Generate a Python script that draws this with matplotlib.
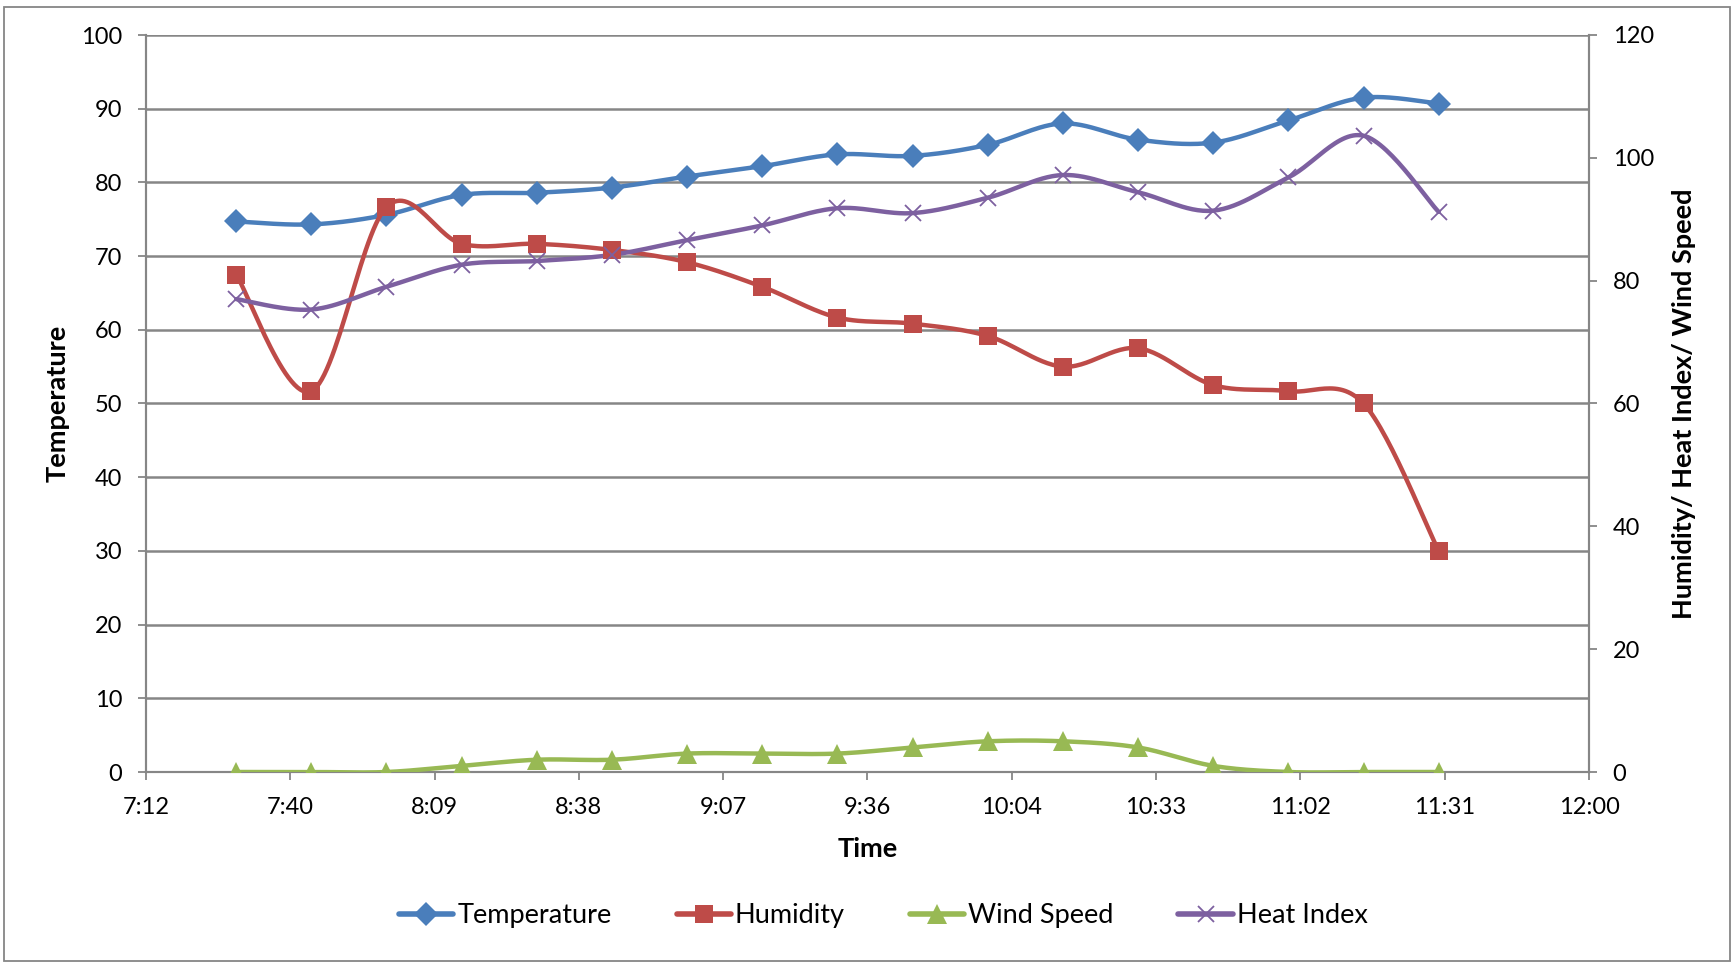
import numpy as np
import matplotlib.pyplot as plt
from matplotlib.lines import Line2D
from matplotlib.patches import Rectangle
from matplotlib.ticker import FuncFormatter, MultipleLocator

# readings, every 15 minutes
times = ["7:30", "7:45", "8:00", "8:15", "8:30", "8:45", "9:00", "9:15", "9:30",
         "9:45", "10:00", "10:15", "10:30", "10:45", "11:00", "11:15", "11:30"]
temperature = [74.7, 74.3, 75.6, 78.3, 78.6, 79.3, 80.8, 82.2, 83.8,
               83.6, 85.1, 88.0, 85.8, 85.4, 88.4, 91.5, 90.7]
humidity = [81.0, 62.0, 92.0, 86.0, 86.0, 85.0, 83.0, 79.0, 74.0,
            73.0, 71.0, 66.0, 69.0, 63.0, 62.0, 60.0, 36.0]
wind_speed = [0, 0, 0, 1, 2, 2, 3, 3, 3, 4, 5, 5, 4, 1, 0, 0, 0]
heat_index = [77.0, 75.3, 79.0, 82.6, 83.2, 84.2, 86.6, 89.0, 91.8,
              91.0, 93.5, 97.2, 94.4, 91.4, 96.8, 103.6, 91.2]

plt.rcParams['font.family'] = ['Lato', 'DejaVu Sans']
GRAY = '#868686'


def to_minutes(t):
    h, m = t.split(':')
    return int(h) * 60 + int(m)


def smooth(x, y, n=30):
    # excel style bezier smoothing (catmull-rom control points)
    x = np.asarray(x, float)
    y = np.asarray(y, float)
    px = np.concatenate([[x[0]], x, [x[-1]]])
    py = np.concatenate([[y[0]], y, [y[-1]]])
    t = np.linspace(0, 1, n)[:, None]
    xs, ys = [], []
    for i in range(1, len(px) - 2):
        p0 = np.array([px[i], py[i]])
        p3 = np.array([px[i + 1], py[i + 1]])
        c1 = p0 + (np.array([px[i + 1], py[i + 1]]) - np.array([px[i - 1], py[i - 1]])) / 6
        c2 = p3 - (np.array([px[i + 2], py[i + 2]]) - np.array([px[i], py[i]])) / 6
        b = ((1 - t) ** 3) * p0 + 3 * ((1 - t) ** 2) * t * c1 + 3 * (1 - t) * t ** 2 * c2 + t ** 3 * p3
        xs.append(b[:, 0])
        ys.append(b[:, 1])
    return np.concatenate(xs), np.concatenate(ys)


def fmt_time(v, pos):
    sec = int(round(v * 60))
    mins = sec // 60
    return f"{mins // 60}:{mins % 60:02d}"


x = np.array([to_minutes(t) for t in times])

fig = plt.figure(figsize=(17.32, 9.63), dpi=100)
ax = fig.add_axes([146 / 1732, 1 - 772 / 963, (1589 - 146) / 1732, (772 - 35) / 963])
ax2 = ax.twinx()

series = [
    (ax, temperature, 'Temperature', '#4A7EBB', 'D', 12.5),
    (ax2, humidity, 'Humidity', '#BE4B48', 's', 13.5),
    (ax2, wind_speed, 'Wind Speed', '#98B954', '^', 15),
    (ax2, heat_index, 'Heat Index', '#7D60A0', 'x', 12),
]

handles = []
for a, vals, name, col, mk, ms in series:
    sx, sy = smooth(x, vals)
    a.plot(sx, sy, color=col, lw=3.2, solid_capstyle='round', zorder=3)
    mew = 1.3 if mk == 'x' else 0
    a.plot(x, vals, ls='none', marker=mk, ms=ms, color=col, mec=col, mew=mew, zorder=4)
    handles.append(Line2D([], [], color=col, lw=4, marker=mk, ms=ms, mec=col, mew=mew,
                          solid_capstyle='round'))

ax.set_xlim(432, 720)
ax.set_ylim(0, 100)
ax2.set_ylim(0, 120)
ax.xaxis.set_major_locator(MultipleLocator(28.8))
ax.xaxis.set_major_formatter(FuncFormatter(fmt_time))
ax.yaxis.set_major_locator(MultipleLocator(10))
ax2.yaxis.set_major_locator(MultipleLocator(20))

ax.grid(axis='y', color=GRAY, lw=1.8, zorder=0)
ax.set_axisbelow(True)

for a in (ax, ax2):
    for s in a.spines.values():
        s.set_color(GRAY)
        s.set_linewidth(1.5)
    a.spines['top'].set_visible(False)
    a.tick_params(colors=GRAY, labelcolor='black', labelsize=17, length=6, width=1.3, direction='out')

ax.tick_params(axis='y', pad=11)
ax.tick_params(axis='x', pad=12)
ax2.tick_params(axis='y', pad=11)

ax.set_xlabel('Time', fontsize=19.5, fontweight='bold', labelpad=14)
ax.set_ylabel('Temperature', fontsize=19.5, fontweight='bold', labelpad=8)
ax2.set_ylabel('Humidity/ Heat Index/ Wind Speed', fontsize=19.5, fontweight='bold', labelpad=13)

fig.legend(handles, [s[2] for s in series], loc='center', bbox_to_anchor=(0.51, 0.049),
           ncol=4, frameon=False, fontsize=19.5, handlelength=2.0, columnspacing=2.4, handletextpad=0.15)

fig.patches.append(Rectangle((4 / 1732, 2 / 963), 1726 / 1732, 954 / 963, transform=fig.transFigure,
                             fill=False, ec=GRAY, lw=1.3))

fig.savefig('out.png', dpi=100)
